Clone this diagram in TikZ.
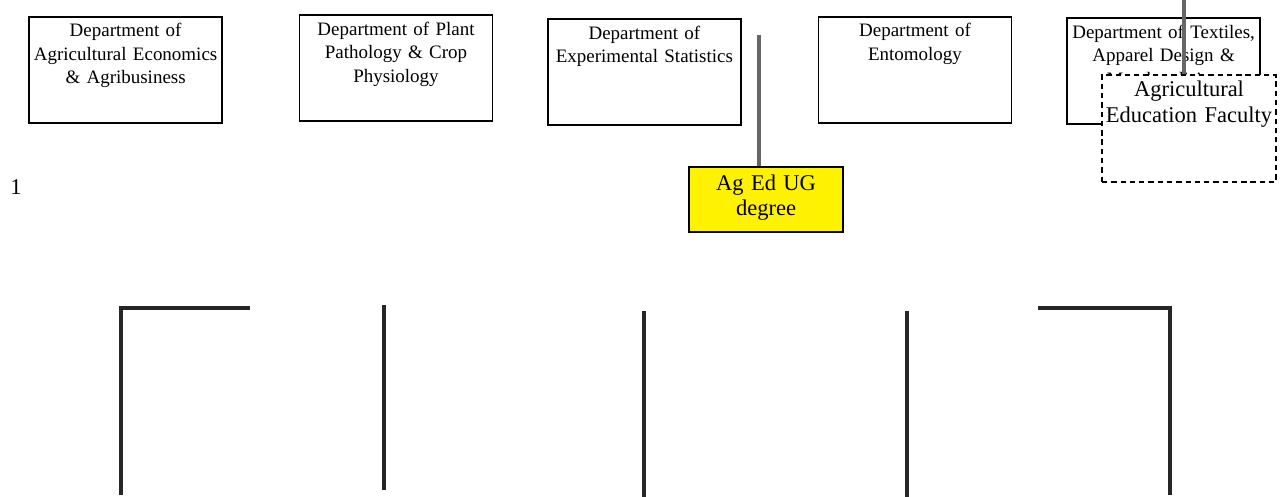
\documentclass[tikz,border=0pt]{standalone}
\usepackage{fontspec}
\setmainfont{Liberation Serif}
\usetikzlibrary{positioning}
\begin{document}
\begin{tikzpicture}[dept/.style={draw,line width=1.4pt,align=center,inner sep=0pt,text width=4.825cm,text height=0.5cm,text depth=2.15cm,font=\fontsize{13.5}{16.7}\selectfont},degre/.style={draw,line width=1.4pt,fill=yellow,align=center,inner sep=0pt,text width=3.85cm,text height=0.575cm,text depth=1.05cm,font=\fontsize{16}{18}\selectfont},faculte/.style={draw,dash pattern=on 3.8pt off 2.8pt,line width=1.3pt,fill=white,align=center,inner sep=0pt,text width=4.35cm,text height=0.55cm,text depth=2.125cm,font=\fontsize{16}{18.5}\selectfont},lien/.style={line width=2.6pt,black!60},trait/.style={line width=2.4pt,black!85}]
\useasboundingbox (0,0) rectangle (32.075,-12.425);
\node[dept] (agecon) at (3.14,-1.75) {Department of\\Agricultural Economics\\\& Agribusiness};
\node[dept] (plant) at (9.9,-1.71) {Department of Plant\\Pathology \& Crop\\Physiology};
\node[dept] (stat) at (16.11,-1.81) {Department of\\Experimental Statistics};
\node[dept] (ento) at (22.875,-1.75) {Department of\\Entomology};
\node[dept] (textile) at (29.09,-1.78) {Department of Textiles,\\Apparel Design \&\\Merchandising};
\node[degre] (ugdeg) at (19.15,-4.99) {Ag Ed UG\\degree};
\node[font=\fontsize{16}{18}\selectfont] (un) at (0.4,-4.68) {1};
\coordinate (s) at (18.98,-0.88);
\coordinate (t) at (29.6,0);
\draw[lien] (s) -- (s |- ugdeg.north);
\draw[lien] (t) -- (29.6,-1.9);
\node[faculte] (agedfac) at (29.725,-3.21) {Agricultural\\Education Faculty};
\coordinate (a0) at (6.25,-7.7);
\coordinate (a1) at (3.025,-7.7);
\coordinate (a2) at (3.025,-12.375);
\coordinate (e0) at (25.95,-7.7);
\coordinate (e1) at (29.25,-7.7);
\coordinate (e2) at (29.25,-12.375);
\coordinate (b1) at (9.6,-7.625);
\coordinate (b2) at (9.6,-12.25);
\coordinate (c1) at (16.1,-7.775);
\coordinate (c2) at (16.1,-12.425);
\coordinate (d1) at (22.675,-7.775);
\coordinate (d2) at (22.675,-12.425);
\draw[trait] (a0) -- (a1) -- (a2);
\draw[trait] (e0) -- (e1) -- (e2);
\foreach \x/\y in {b1/b2,c1/c2,d1/d2}{\draw[trait] (\x)--(\y);}
\end{tikzpicture}
\end{document}
